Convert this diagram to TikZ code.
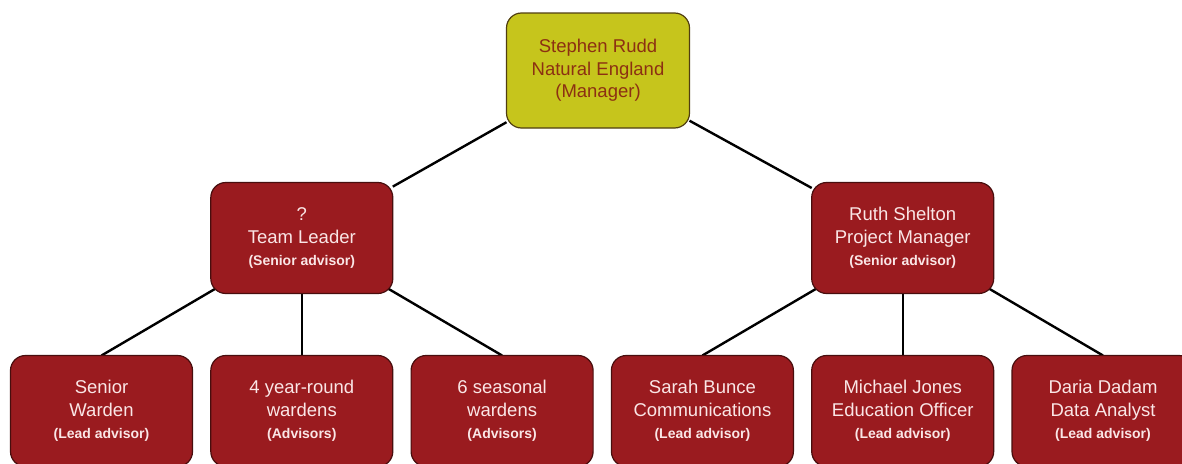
\documentclass[tikz,border=0pt]{standalone}
\usepackage{fontspec}
\setmainfont{Liberation Sans}
\usepackage{xcolor}
\usetikzlibrary{positioning}
\usetikzlibrary{backgrounds}

\definecolor{boxred}{RGB}{154,27,31}
\definecolor{boxedge}{RGB}{72,14,14}
\definecolor{headfill}{RGB}{198,197,28}
\definecolor{headedge}{RGB}{80,62,16}
\definecolor{headtext}{RGB}{140,48,18}
\definecolor{boxtext}{RGB}{250,230,230}

% small bold line under each name
\newcommand{\role}[1]{{\fontsize{14}{16}\selectfont\bfseries #1}}

\begin{document}
\begin{tikzpicture}[
  x=1pt, y=-1pt,
  node distance=62pt and 18.3pt, % rows and columns
  every node/.style={
    draw=boxedge,
    fill=boxred,
    text=boxtext,
    line width=1.2pt,
    rounded corners=15pt,
    align=center,
    font=\fontsize{18.5}{22.5}\selectfont,
    minimum width=182pt,
    minimum height=111pt,
    inner sep=0pt,
    outer sep=0pt
  },
  link/.style={line width=2.4pt, black}
]
\useasboundingbox (0,0) rectangle (1182,463);

\node (W1) at (101.5,411) {Senior\\Warden\\\role{(Lead advisor)}};
\node[right=of W1] (W2) {4 year-round\\wardens\\\role{(Advisors)}};
\node[right=of W2] (W3) {6 seasonal\\wardens\\\role{(Advisors)}};
\node[right=of W3] (P1) {Sarah Bunce\\Communications\\\role{(Lead advisor)}};
\node[right=of P1] (P2) {Michael Jones\\Education Officer\\\role{(Lead advisor)}};
\node[right=of P2] (P3) {Daria Dadam\\Data Analyst\\\role{(Lead advisor)}};

\node[above=of W2] (T) {?\\Team Leader\\\role{(Senior advisor)}};
\node[above=of P2] (P) {Ruth Shelton\\Project Manager\\\role{(Senior advisor)}};

\node[fill=headfill, draw=headedge, text=headtext, minimum width=183pt, minimum height=115pt] (M) at (598,70.5) {Stephen Rudd\\Natural England\\(Manager)};

% connectors behind the boxes
\begin{scope}[on background layer]
\draw[link] (M) -- (T);
\draw[link] (M) -- (P);
\foreach \c in {W1,W2,W3} \draw[link] (T.center) -- (\c.north);
\foreach \c in {P1,P2,P3} \draw[link] (P.center) -- (\c.north);
\end{scope}
\end{tikzpicture}
\end{document}
